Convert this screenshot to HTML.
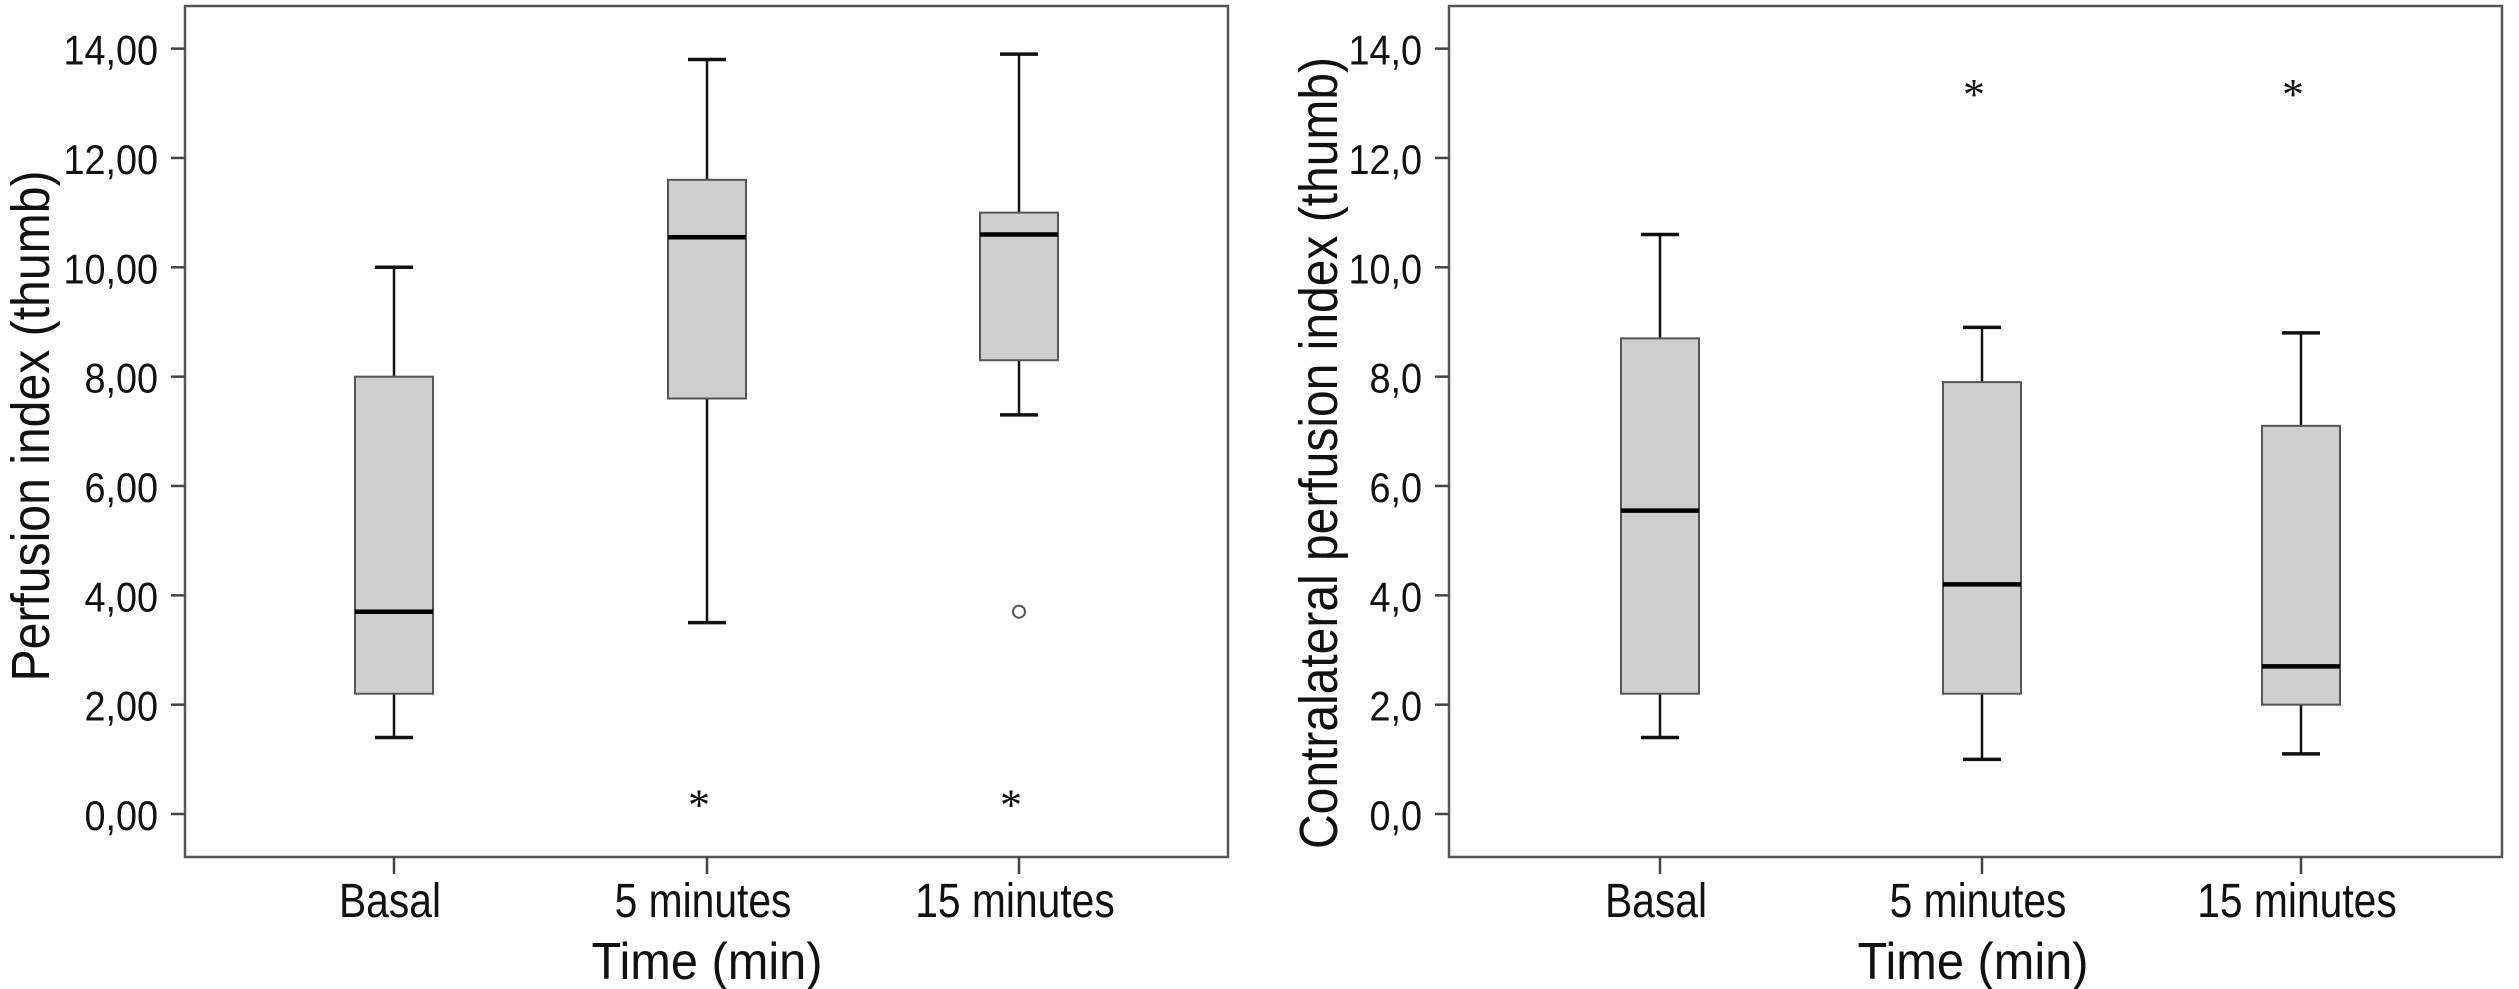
<!DOCTYPE html>
<html><head><meta charset="utf-8"><style>
html,body{margin:0;padding:0;background:#fff;}
svg{display:block;font-family:"Liberation Sans",sans-serif;}
</style></head><body>
<svg id="chart" width="2519" height="989" xmlns="http://www.w3.org/2000/svg"></svg>
<script>
const categories = ["Basal", "5 minutes", "15 minutes"];
const leftWhiskerLow = [1.4, 3.5, 7.3];
const leftQ1 = [2.2, 7.6, 8.3];
const leftMedian = [3.7, 10.55, 10.6];
const leftQ3 = [8.0, 11.6, 11.0];
const leftWhiskerHigh = [10.0, 13.8, 13.9];
const leftCircleOutliers = [[], [], [3.7]];
const leftStarOutliers = [[], [0.3], [0.3]];
const leftTicks = [0, 2, 4, 6, 8, 10, 12, 14];
const leftTickLabels = ["0,00", "2,00", "4,00", "6,00", "8,00", "10,00", "12,00", "14,00"];

const rightWhiskerLow = [1.4, 1.0, 1.1];
const rightQ1 = [2.2, 2.2, 2.0];
const rightMedian = [5.55, 4.2, 2.7];
const rightQ3 = [8.7, 7.9, 7.1];
const rightWhiskerHigh = [10.6, 8.9, 8.8];
const rightCircleOutliers = [[], [], []];
const rightStarOutliers = [[], [13.3], [13.3]];
const rightTicks = [0, 2, 4, 6, 8, 10, 12, 14];
const rightTickLabels = ["0,0", "2,0", "4,0", "6,0", "8,0", "10,0", "12,0", "14,0"];

const NS = "http://www.w3.org/2000/svg";
const svg = document.getElementById("chart");
function mk(tag, attrs, parent) {
  const e = document.createElementNS(NS, tag);
  for (const k in attrs) e.setAttribute(k, attrs[k]);
  (parent || svg).appendChild(e);
  return e;
}

function panel(cfg) {
  const g = mk("g", {});
  
  
  const y = v => 814 - v * 54.67;
  const x = i => cfg.cx[i];
  const fr = mk("rect", {x: cfg.left, y: 6, width: cfg.right - cfg.left, height: 851, fill: "none", stroke: "#555", "stroke-width": 2.5}, g);
  
  
  cfg.ticks.forEach((t, i) => {
    const tl = mk("line", {x1: cfg.left - 14, x2: cfg.left, y1: y(t), y2: y(t), stroke: "#444", "stroke-width": 2.5}, g);
    
    
    const tx = mk("text", {x: 0, y: 0, transform: `translate(${cfg.left - 27},${y(t) + 16}) scale(0.9,1)`, "text-anchor": "end", "font-size": 42, fill: "#111"}, g);
    tx.textContent = cfg.tickLabels[i];
    
    
  });
  const yt = mk("text", {x: 0, y: 0, transform: `translate(${cfg.ytx},${cfg.ytcy}) rotate(-90)`, "text-anchor": "middle", "font-size": 54, fill: "#111", textLength: cfg.ytlen, lengthAdjust: "spacingAndGlyphs"}, g);
  yt.textContent = cfg.ytitle;
  
  
  const xt = mk("text", {x: cfg.xtc, y: 979, "text-anchor": "middle", "font-size": 52, fill: "#111", textLength: 231, lengthAdjust: "spacingAndGlyphs"}, g);
  xt.textContent = "Time (min)";
  
  
  categories.forEach((c, i) => {
    const cx = x(i);
    const tk = mk("line", {x1: cx, x2: cx, y1: 857, y2: 874, stroke: "#444", "stroke-width": 2.5}, g);
    
    
    const lb = mk("text", {x: 0, y: 0, transform: `translate(${cx - 4},917) scale(0.85,1)`, "text-anchor": "middle", "font-size": 48, fill: "#111"}, g);
    lb.textContent = c;
    
    
    const bg = mk("g", {}, g);
    
    
    mk("line", {x1: cx, x2: cx, y1: y(cfg.hi[i]), y2: y(cfg.q3[i]), stroke: "#111", "stroke-width": 2.5}, bg);
    mk("line", {x1: cx, x2: cx, y1: y(cfg.q1[i]), y2: y(cfg.lo[i]), stroke: "#111", "stroke-width": 2.5}, bg);
    mk("line", {x1: cx - 19, x2: cx + 19, y1: y(cfg.hi[i]), y2: y(cfg.hi[i]), stroke: "#111", "stroke-width": 3.5}, bg);
    mk("line", {x1: cx - 19, x2: cx + 19, y1: y(cfg.lo[i]), y2: y(cfg.lo[i]), stroke: "#111", "stroke-width": 3.5}, bg);
    mk("rect", {x: cx - 39, y: y(cfg.q3[i]), width: 78, height: y(cfg.q1[i]) - y(cfg.q3[i]), fill: "#cfcfcf", stroke: "#555", "stroke-width": 2}, bg);
    mk("line", {x1: cx - 39, x2: cx + 39, y1: y(cfg.med[i]), y2: y(cfg.med[i]), stroke: "#000", "stroke-width": 4.5}, bg);
    cfg.circ[i].forEach(v => {
      const o = mk("circle", {cx: cx, cy: y(v), r: 6, fill: "none", stroke: "#555", "stroke-width": 2}, g);
      
      
    });
    cfg.star[i].forEach(v => {
      const s = mk("text", {x: cx - 8, y: y(v) + 22, "text-anchor": "middle", "font-size": 44, fill: "#111", "font-family": "Liberation Serif, serif"}, g);
      s.textContent = "*";
      
      
    });
  });
}

panel({name: "left-panel", left: 185, right: 1228, cx: [394, 707, 1019],
  lo: leftWhiskerLow, q1: leftQ1, med: leftMedian, q3: leftQ3, hi: leftWhiskerHigh,
  circ: leftCircleOutliers, star: leftStarOutliers, ticks: leftTicks, tickLabels: leftTickLabels,
  ytitle: "Perfusion index (thumb)", ytx: 49, ytcy: 426, ytlen: 511, xtc: 707});
panel({name: "right-panel", left: 1449, right: 2502, cx: [1660, 1982, 2301],
  lo: rightWhiskerLow, q1: rightQ1, med: rightMedian, q3: rightQ3, hi: rightWhiskerHigh,
  circ: rightCircleOutliers, star: rightStarOutliers, ticks: rightTicks, tickLabels: rightTickLabels,
  ytitle: "Contralateral perfusion index (thumb)", ytx: 1337, ytcy: 453, ytlen: 792, xtc: 1973});
</script>
</body></html>
